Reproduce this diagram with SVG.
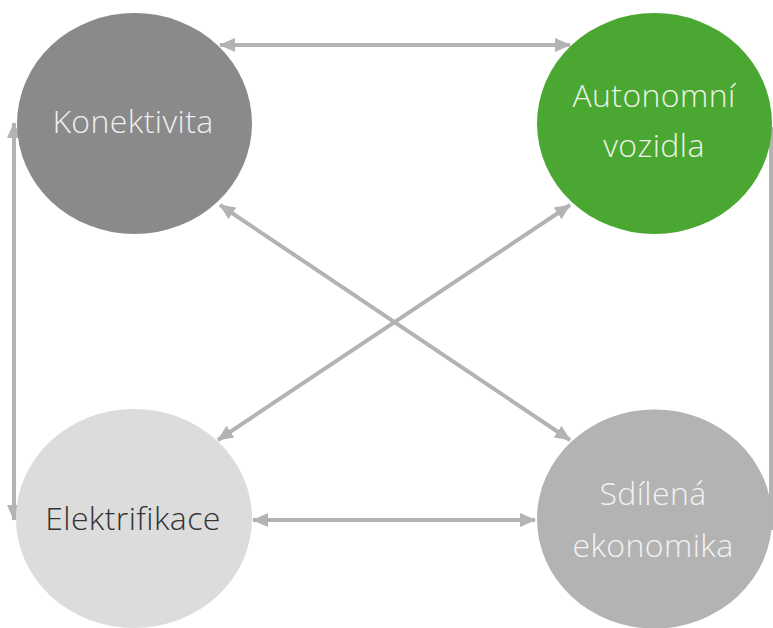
<svg xmlns="http://www.w3.org/2000/svg" width="773" height="628" viewBox="0 0 773 628">
<defs>
<style>
.c{stroke:#b3b3b3;stroke-width:4;fill:none}
.t{font-family:"Open Sans","DejaVu Sans",sans-serif;font-weight:300;font-size:32px;letter-spacing:0.4px;text-anchor:middle}
</style>
<marker id="ah" markerUnits="userSpaceOnUse" markerWidth="16" markerHeight="14" refX="15" refY="7" orient="auto-start-reverse" viewBox="0 0 16 14">
<path d="M0,0 L16,7 L0,14 Z" fill="#b3b3b3"/>
</marker>
</defs>
<rect width="773" height="628" fill="#ffffff"/>
<g id="connectors">
<line class="c" x1="220" y1="45" x2="570" y2="45" marker-start="url(#ah)" marker-end="url(#ah)"/>
<line class="c" x1="14" y1="123" x2="14" y2="520" marker-start="url(#ah)" marker-end="url(#ah)"/>
<line class="c" x1="771" y1="127" x2="771" y2="530" marker-start="url(#ah)"/>
<line class="c" x1="253" y1="520" x2="535" y2="520" marker-start="url(#ah)" marker-end="url(#ah)"/>
<line class="c" x1="220" y1="205" x2="570" y2="440" marker-start="url(#ah)" marker-end="url(#ah)"/>
<line class="c" x1="218" y1="440" x2="570" y2="205" marker-start="url(#ah)" marker-end="url(#ah)"/>
</g>
<g id="konektivita">
<ellipse cx="134.5" cy="123.5" rx="117.5" ry="110.5" fill="#8a8a8a"/>
<text class="t" x="133" y="133" fill="#eeeef2">Konektivita</text>
</g>
<g id="autonomni">
<ellipse cx="654.5" cy="123.5" rx="117.5" ry="110.5" fill="#4aa832"/>
<text class="t" x="654" y="107" fill="#eef3e6">Autonomní</text>
<text class="t" x="654" y="157" fill="#eef3e6">vozidla</text>
</g>
<g id="elektrifikace">
<ellipse cx="134" cy="518.5" rx="118" ry="109.5" fill="#dcdcdc"/>
<text class="t" x="133" y="530" fill="#333333">Elektrifikace</text>
</g>
<g id="sdilena">
<ellipse cx="654.5" cy="519" rx="117.5" ry="109.5" fill="#b3b3b3"/>
<text class="t" x="653" y="505" fill="#f2f2f2">Sdílená</text>
<text class="t" x="653" y="557" fill="#f2f2f2">ekonomika</text>
</g>
</svg>
